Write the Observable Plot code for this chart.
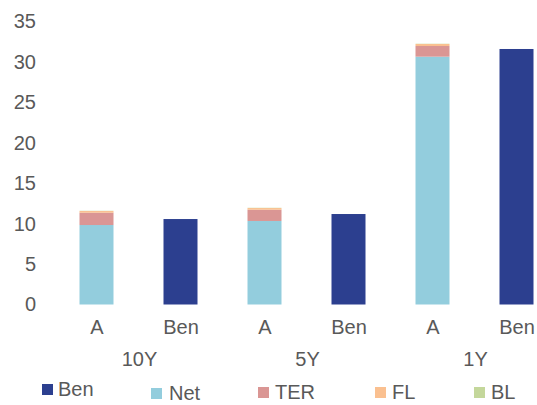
<!DOCTYPE html>
<html>
<head>
<meta charset="utf-8">
<script src="https://cdn.jsdelivr.net/npm/d3@7"></script>
<script src="https://cdn.jsdelivr.net/npm/@observablehq/plot@0.6"></script>
<style>
  html, body { margin: 0; padding: 0; background: #fff; }
  #wrap { position: relative; width: 537px; height: 405px; overflow: hidden; font-family: "Liberation Sans", Arial, sans-serif; color: #595959; }
  #chart svg { display: block; }
  .lg { position: absolute; display: flex; align-items: center; font-size: 20px; line-height: 14px; height: 14px; white-space: nowrap; }
  .sw { width: 11px; height: 11px; margin-right: 6px; }
</style>
</head>
<body>
<div id="wrap"><div id="chart"></div></div>
<script>
// ---- data ----
const periods = ["10Y", "5Y", "1Y"];
const subCategories = ["A", "Ben"];
const seriesNames = ["Ben", "Net", "TER", "FL", "BL"];
const benValues = [10.57, 11.19, 31.6];
const netValues = [9.83, 10.33, 30.65];
const terValues = [1.52, 1.39, 1.32];
const flValues = [0.21, 0.21, 0.25];
const blValues = [0.03, 0.03, 0.03];
const yTicks = [0, 5, 10, 15, 20, 25, 30, 35];

// ---- styles ----
const seriesColors = ["#2c3f8f", "#93cddd", "#da9694", "#fac090", "#c4d79b"];
const legendLayout = [
  {left: 42, top: 382, sw: 5},
  {left: 151, top: 386, sw: 7},
  {left: 258, top: 385, sw: 6},
  {left: 375, top: 385, sw: 6},
  {left: 474, top: 385, sw: 6}
];

const rows = [];
periods.forEach((p, i) => {
  rows.push({period: p, cat: subCategories[0], series: "Net", value: netValues[i]});
  rows.push({period: p, cat: subCategories[0], series: "TER", value: terValues[i]});
  rows.push({period: p, cat: subCategories[0], series: "FL", value: flValues[i]});
  rows.push({period: p, cat: subCategories[0], series: "BL", value: blValues[i]});
  rows.push({period: p, cat: subCategories[1], series: "Ben", value: benValues[i]});
});

const W = 537, H = 375;
const chart = Plot.plot({
  width: W,
  height: H,
  marginLeft: 54.5,
  marginRight: -22,
  marginTop: 21.5,
  marginBottom: H - 304.5,
  style: {fontFamily: "'Liberation Sans', Arial, sans-serif", fontSize: "20px", color: "#595959", background: "transparent"},
  fx: {domain: periods, padding: 0, axis: "bottom", tickSize: 0, tickPadding: 46.5, label: null},
  x: {domain: subCategories, paddingInner: 0.595, paddingOuter: 0.2975, axis: "bottom", tickSize: 0, tickPadding: 14.5, label: null},
  y: {domain: [0, 35], ticks: yTicks, tickSize: 0, tickPadding: 19.5, label: null, line: false},
  color: {domain: seriesNames, range: seriesColors},
  marks: [
    Plot.barY(rows, Plot.stackY({x: "cat", fx: "period", y: "value", fill: "series", order: null}))
  ]
});
document.getElementById("chart").appendChild(chart);

// legend
const wrap = document.getElementById("wrap");
seriesNames.forEach((name, i) => {
  const L = legendLayout[i];
  const item = document.createElement("div");
  item.className = "lg";
  item.style.left = L.left + "px";
  item.style.top = L.top + "px";
  const sw = document.createElement("span");
  sw.className = "sw";
  sw.style.background = seriesColors[i];
  sw.style.marginRight = L.sw + "px";
  const tx = document.createElement("span");
  tx.textContent = name;
  item.appendChild(sw);
  item.appendChild(tx);
  wrap.appendChild(item);
});
</script>
</body>
</html>
